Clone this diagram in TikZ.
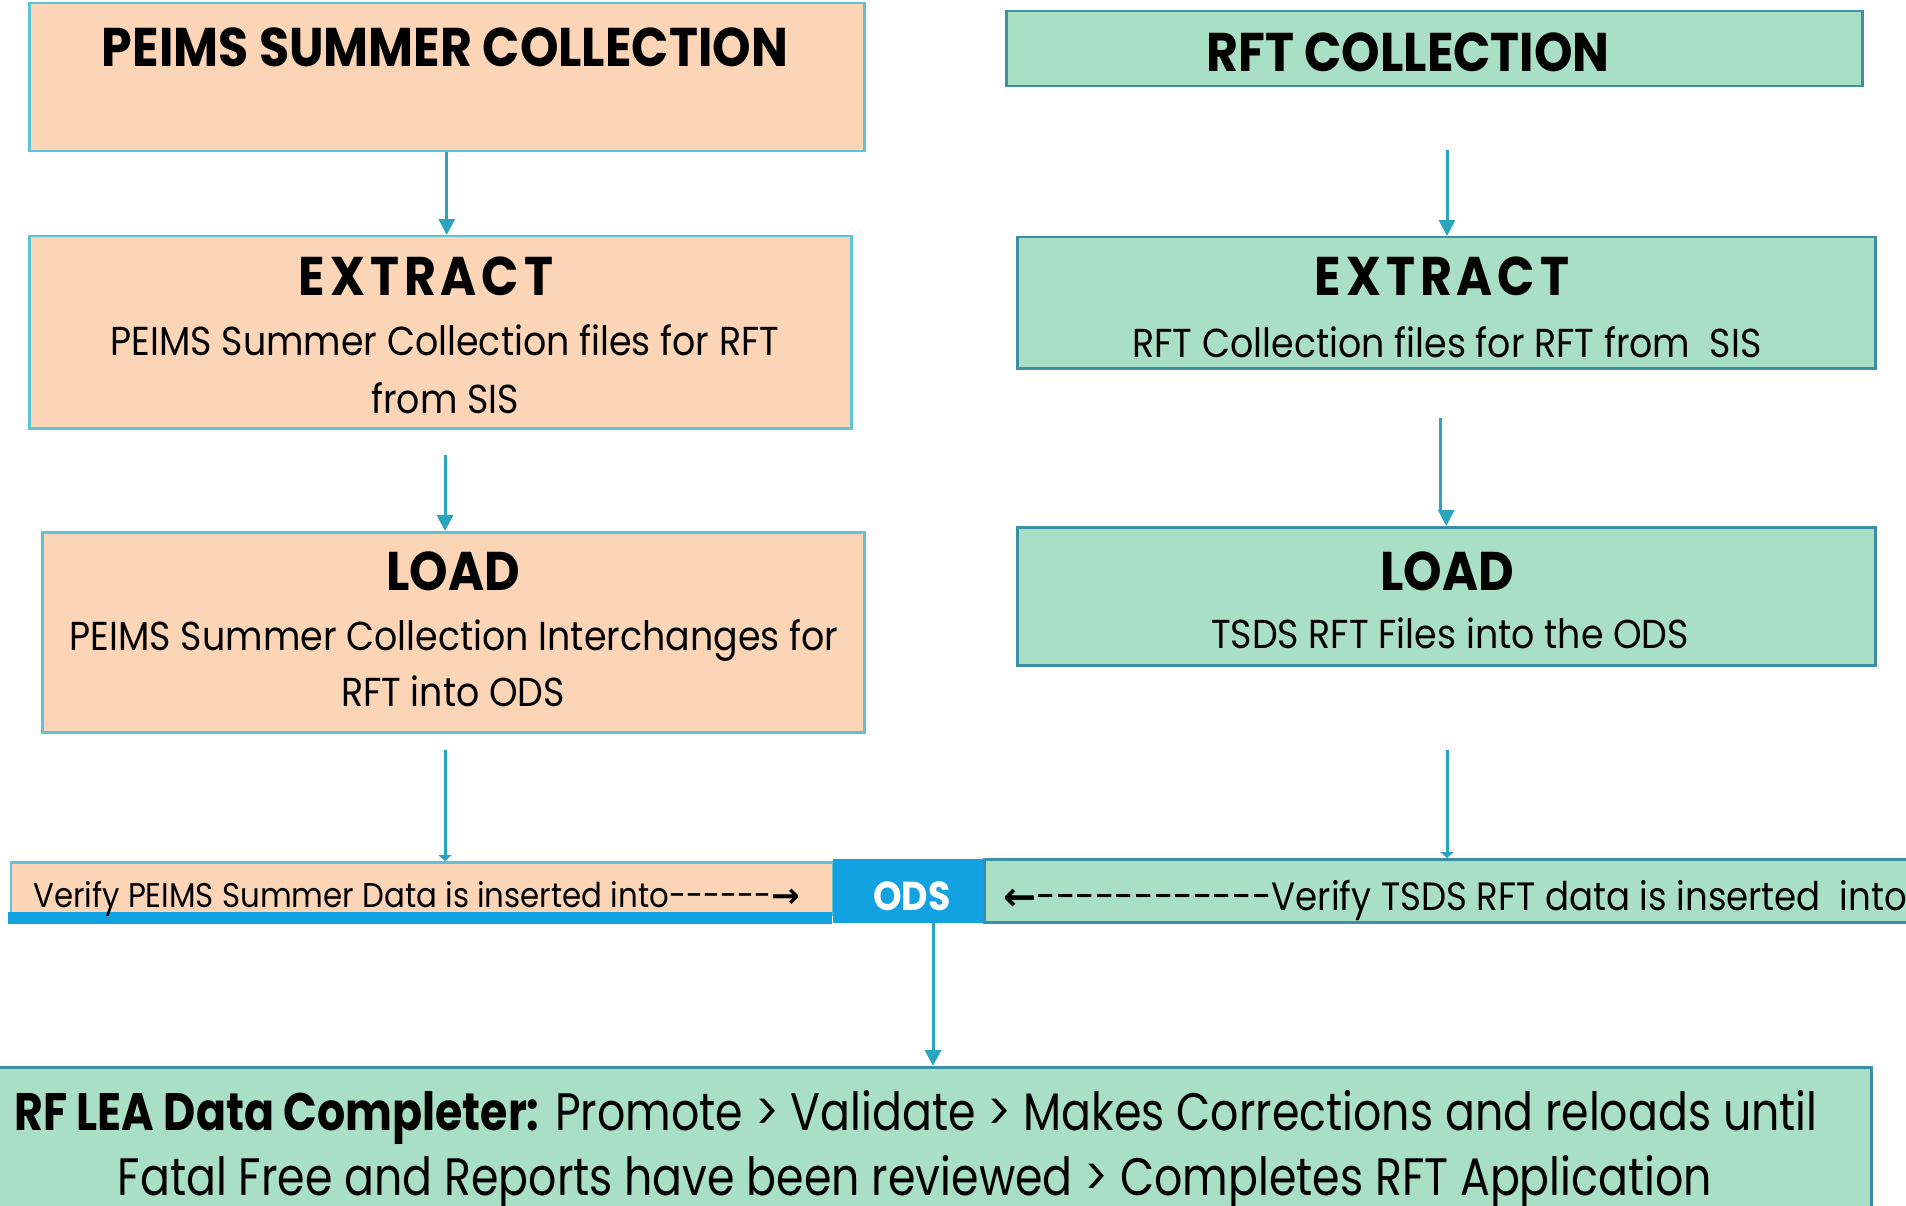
\documentclass[tikz,border=0pt]{standalone}
\usepackage{fontspec}
\setmainfont{Poppins}[FakeStretch=0.9]
\newfontfamily\spacedhead{Poppins}[FakeStretch=0.9,LetterSpace=9]
\newfontfamily\narrowbody{Poppins}[FakeStretch=0.84]
\newfontfamily\arrowfont{DejaVu Sans}
\usepackage{tikz}
\usetikzlibrary{arrows.meta,positioning}
\definecolor{peach}{HTML}{FBD5B6}
\definecolor{mint}{HTML}{A8DFC5}
\definecolor{peachline}{HTML}{5EC3D6}
\definecolor{mintline}{HTML}{3C8FA5}
\definecolor{flowline}{HTML}{2AA3BE}
\definecolor{odsblue}{HTML}{12A2E2}
\def\pxu{0.02cm}
\newcommand\dashrun[1]{\foreach \k in {1,...,#1}{-}}
\tikzset{
  stage/.style={rectangle, inner sep=0pt, anchor=north west, line width=0.05cm},
  peachbox/.style={stage, fill=peach, draw=peachline},
  mintbox/.style={stage, fill=mint, draw=mintline},
  headtxt/.style={anchor=base, inner sep=0pt, font=\fontsize{31}{31}\selectfont\bfseries},
  bodytxt/.style={anchor=base, inner sep=0pt, font=\fontsize{23}{23}\selectfont},
  checktxt/.style={anchor=base west, inner sep=0pt, font=\fontsize{19.5}{19.5}\selectfont},
  flow/.style={draw=flowline, line width=0.06cm, -{Triangle[width=0.32cm,length=0.32cm]}},
}
\begin{document}
\begin{tikzpicture}[x=0.02cm,y=-0.02cm]
        \useasboundingbox (0,0) rectangle (1906,1206);
        %Boxes
        \node[peachbox, minimum width=835*\pxu, minimum height=148*\pxu] (sumcoll) at (28,2) {};
        \node[peachbox, minimum width=822*\pxu, minimum height=192*\pxu] (sumext) at (28,235) {};
        \node[peachbox, minimum width=822*\pxu, minimum height=200*\pxu] (sumload) at (41,531) {};
        \node[mintbox, minimum width=856*\pxu, minimum height=75*\pxu] (rftcoll) at (1005,10) {};
        \node[mintbox, minimum width=858*\pxu, minimum height=131*\pxu] (rftext) at (1016,236) {};
        \node[mintbox, minimum width=858*\pxu, minimum height=138*\pxu] (rftload) at (1016,526) {};
        %Verify bar
        \node[peachbox, minimum width=822*\pxu, minimum height=52*\pxu] (chkpeims) at (10,861) {};
        \fill[odsblue] (8,912) rectangle (832,924);
        \node[stage, fill=odsblue, minimum width=151*\pxu, minimum height=64*\pxu] (ods) at (832,858) {};
        \node[mintbox, minimum width=940*\pxu, minimum height=63*\pxu] (chkrft) at (983,858) {};
        \node[mintbox, minimum width=1880*\pxu, minimum height=170*\pxu] (completer) at (-10,1066) {};
        %Free ends
        \coordinate (rftgap1) at (1447,150);
        \coordinate (sumgap2) at (445,455);
        \coordinate (rftgap2) at (1440,418);
        \coordinate (sumgap3) at (445,750);
        \coordinate (rftgap3) at (1447,750);
        \coordinate (odsgap) at (933,922);
        %Arrows
        \draw[flow] (sumcoll.south) -- (sumcoll.south |- sumext.north);
        \draw[flow] (rftgap1) -- (rftgap1 |- rftext.north);
        \draw[flow] (sumgap2) -- (sumgap2 |- sumload.north);
        \draw[flow] (rftgap2) -- ++(0,93) -| (rftload.north);
        \draw[flow, -{Triangle[width=0.26cm,length=0.12cm]}] (sumgap3) -- (sumgap3 |- chkpeims.north);
        \draw[flow, -{Triangle[width=0.26cm,length=0.12cm]}] (rftgap3) -- (rftgap3 |- chkrft.north);
        \draw[flow] (odsgap) -- (odsgap |- completer.north);
        %Texts
        \node[headtxt] (sumcolltxt) at (445,67) {PEIMS SUMMER COLLECTION};
        \node[headtxt] (rftcolltxt) at (1408,72) {RFT COLLECTION};
        \node[headtxt, font=\fontsize{31}{31}\spacedhead\bfseries] (sumexthead) at (426,296) {EXTRACT};
        \node[bodytxt] (sumexttxt) at (445,355) {PEIMS Summer Collection files for RFT};
        \node[bodytxt] (sumexttxtb) at (445,413) {from SIS};
        \node[headtxt, font=\fontsize{31}{31}\spacedhead\bfseries] (rftexthead) at (1442,296) {EXTRACT};
        \node[bodytxt] (rftexttxt) at (1447,357) {RFT Collection files for RFT from \ SIS};
        \node[headtxt] (sumloadhead) at (453,590) {LOAD};
        \node[bodytxt] (sumloadtxt) at (454,650) {PEIMS Summer Collection Interchanges for};
        \node[bodytxt] (sumloadtxtb) at (453,706) {RFT into ODS};
        \node[headtxt] (rftloadhead) at (1447,590) {LOAD};
        \node[bodytxt] (rftloadtxt) at (1450,648) {TSDS RFT Files into the ODS};
        \node[checktxt] (chkpeimstxt) at (33,907) {Verify PEIMS Summer Data is inserted into\dashrun{6}{\arrowfont\bfseries →}};
        \node[headtxt, font=\fontsize{23}{23}\selectfont\bfseries, text=white] (odstxt) at (912,910) {ODS};
        \node[checktxt, font=\fontsize{22.5}{22.5}\selectfont] (chkrfttxt) at (1003,910) {{\arrowfont\bfseries ←}\dashrun{12}Verify TSDS RFT data is inserted \ into};
        \node[bodytxt, font=\fontsize{30}{30}\narrowbody] (completertxt) at (916,1130) {\textbf{RF LEA Data Completer:} Promote > Validate > Makes Corrections and reloads until};
        \node[bodytxt, font=\fontsize{30}{30}\narrowbody] (completertxtb) at (915,1195) {Fatal Free and Reports have been reviewed > Completes RFT Application};
      \end{tikzpicture}
\end{document}
